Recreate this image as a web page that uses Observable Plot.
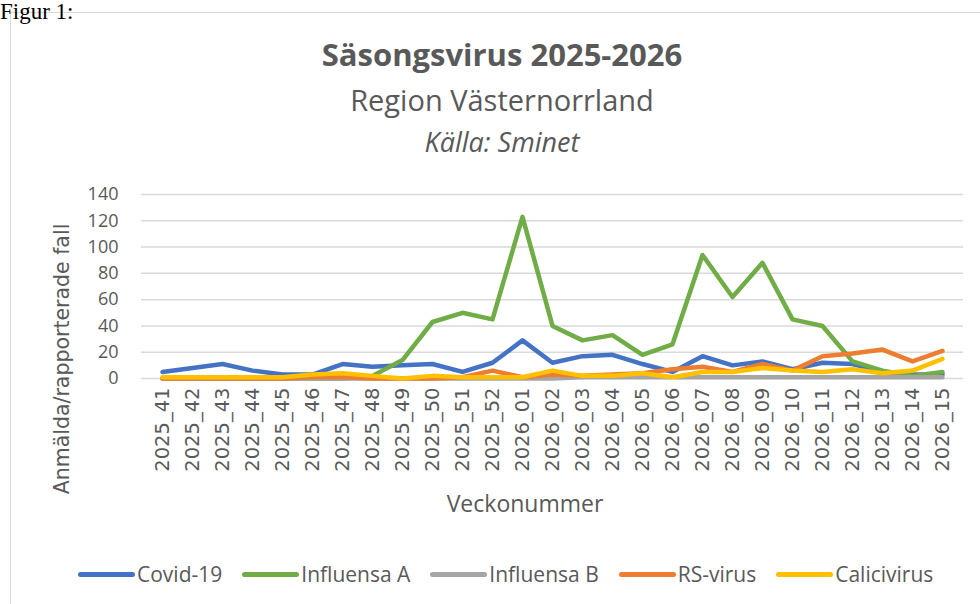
<!DOCTYPE html>
<html>
<head>
<meta charset="utf-8">
<script src="https://cdn.jsdelivr.net/npm/d3@7"></script>
<script src="https://cdn.jsdelivr.net/npm/@observablehq/plot@0.6"></script>
<style>
  html, body { margin: 0; padding: 0; background: #fff; }
  #root { position: relative; width: 980px; height: 604px; overflow: hidden; font-family: "Open Sans", sans-serif; color: #595959; }
  .abs { position: absolute; white-space: nowrap; }
  #figur { left: 0; top: 0px; font-family: "Liberation Serif", serif; font-size: 23px; line-height: 24px; color: #000; }
  #box { left: 10px; top: 12px; width: 1000px; height: 620px; border: 1px solid #d9d9d9; box-sizing: border-box; }
  .center { left: 0; width: 1004px; text-align: center; }
  #title { top: 34px; font-size: 31px; line-height: 40px; font-weight: bold; }
  #sub { top: 80px; font-size: 29px; line-height: 40px; }
  #src { top: 124px; font-size: 27px; line-height: 36px; font-style: italic; }
  #ylab { left: 62px; top: 359px; transform: translate(-50%, -50%) rotate(-90deg); font-family: "DejaVu Sans", sans-serif; font-size: 20.5px; }
  #xlab { top: 487px; font-size: 23px; line-height: 32px; left: 0; width: 1050px; text-align: center; }
  #legend { top: 560px; left: 78px; display: flex; align-items: center; font-size: 21px; line-height: 28px; }
  .item { display: flex; align-items: center; margin-right: 20px; }
  .sw { width: 57px; height: 5px; border-radius: 3px; margin-right: 2px; }
  #chart { position: absolute; left: 0; top: 180px; }
</style>
</head>
<body>
<div id="root">
  <div class="abs" id="box"></div>
  <div class="abs" id="figur">Figur 1:</div>
  <div class="abs center" id="title">Säsongsvirus 2025-2026</div>
  <div class="abs center" id="sub">Region Västernorrland</div>
  <div class="abs center" id="src">Källa: Sminet</div>
  <div class="abs" id="ylab">Anmälda/rapporterade fall</div>
  <div class="abs" id="xlab">Veckonummer</div>
  <div id="chart"></div>
  <div class="abs" id="legend"></div>
</div>
<script>
const weeks = ["2025_41","2025_42","2025_43","2025_44","2025_45","2025_46","2025_47","2025_48","2025_49","2025_50","2025_51","2025_52",
  "2026_01","2026_02","2026_03","2026_04","2026_05","2026_06","2026_07","2026_08","2026_09","2026_10","2026_11","2026_12","2026_13","2026_14","2026_15"];
const yTicks = [0, 20, 40, 60, 80, 100, 120, 140];
const seriesNames = ["Covid-19", "Influensa A", "Influensa B", "RS-virus", "Calicivirus"];
const seriesColors = ["#4472C4", "#70AD47", "#A5A5A5", "#ED7D31", "#FFC000"];

const covid19    = [5, 8, 11, 6, 3, 3, 11, 9, 10, 11, 5, 12, 29, 12, 17, 18, 11, 5, 17, 10, 13, 7, 12, 11, 5, 3, 3];
const influensaA = [0, 0, 0, 0, 0, 0, 0, 2, 14, 43, 50, 45, 123, 40, 29, 33, 18, 26, 94, 62, 88, 45, 40, 13, 6, 2, 5];
const influensaB = [0, 0, 0, 0, 0, 0, 0, 0, 0, 0, 0, 0, 0, 0, 1, 1, 1, 1, 1, 1, 1, 1, 1, 1, 1, 1, 1];
const rsVirus    = [0, 0, 0, 0, 0, 1, 1, 0, 0, 0, 1, 6, 1, 3, 2, 3, 4, 7, 9, 5, 11, 6, 17, 19, 22, 13, 21];
const calicivirus= [1, 1, 1, 1, 1, 3, 4, 2, 0, 2, 1, 1, 1, 6, 2, 2, 4, 1, 5, 5, 8, 6, 5, 7, 4, 6, 15];

const seriesValues = [covid19, influensaA, influensaB, rsVirus, calicivirus];
const data = [];
seriesNames.forEach((name, si) => {
  weeks.forEach((w, i) => data.push({series: name, week: w, value: seriesValues[si][i]}));
});

const chart = Plot.plot({
  width: 980,
  height: 310,
  marginLeft: 141,
  marginRight: 17,
  marginTop: 14,
  marginBottom: 112,
  style: {fontFamily: "'Open Sans', sans-serif", color: "#595959", background: "transparent"},
  x: {type: "point", domain: weeks, padding: 0.5},
  y: {domain: [0, 140]},
  color: {domain: seriesNames, range: seriesColors},
  marks: [
    Plot.ruleY(yTicks, {stroke: "#d9d9d9", strokeWidth: 1.5}),
    Plot.axisY(yTicks, {tickSize: 0, tickPadding: 23, fontSize: 18, label: null, fill: "#595959"}),
    Plot.axisX({tickRotate: -90, tickSize: 0, tickPadding: 9, fontSize: 19.5, label: null, fill: "#595959", fontFamily: "DejaVu Sans"}),
    Plot.line(data, {x: "week", y: "value", stroke: "series", z: "series", strokeWidth: 4.5, strokeLinejoin: "round", strokeLinecap: "round"})
  ]
});
document.getElementById("chart").appendChild(chart);

const legend = document.getElementById("legend");
seriesNames.forEach((name, i) => {
  const it = document.createElement("div");
  it.className = "item";
  const sw = document.createElement("div");
  sw.className = "sw";
  sw.style.background = seriesColors[i];
  const tx = document.createElement("span");
  tx.textContent = name;
  it.appendChild(sw);
  it.appendChild(tx);
  legend.appendChild(it);
});
</script>
</body>
</html>
